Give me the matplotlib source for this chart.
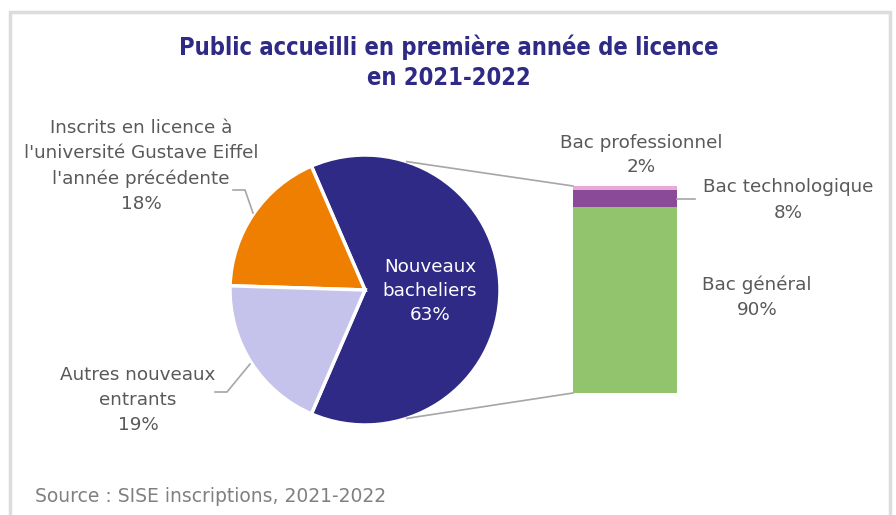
import matplotlib
matplotlib.use("Agg")
import matplotlib.pyplot as plt
import matplotlib.patches as mpatches
import numpy as np

# pie data
pie_labels = ["Nouveaux\nbacheliers", "Inscrits en licence à\nl'université Gustave Eiffel\nl'année précédente",
              "Autres nouveaux\nentrants"]
pie_values = [63, 18, 19]
pie_colors = ["#2E2A85", "#EE7F00", "#C5C3EB"]

# bar breakdown of "Nouveaux bacheliers"
bar_labels = ["Bac général", "Bac technologique", "Bac professionnel"]
bar_values = [90, 8, 2]
bar_colors = ["#92C46E", "#8A4A97", "#E8A8D8"]

W, H = 896, 515
TXT = "#595959"
LINE = "#A6A6A6"


def Y(y):
    # pixel row (from top) -> data y
    return H - y


fig = plt.figure(figsize=(W / 100, H / 100), dpi=100)
ax = fig.add_axes([0, 0, 1, 1])

# pie
cx, cy, r = 365, 290, 135
start = -sum(pie_values[:1]) / 100 * 180
ax.pie(pie_values, colors=pie_colors, startangle=start, counterclock=True,
       center=(cx, Y(cy)), radius=r,
       wedgeprops=dict(edgecolor="white", linewidth=2.5))

# stacked bar
bx, bw, b_bottom, b_height = 625, 104, 393, 207
scale = b_height / sum(bar_values)
bottom = Y(b_bottom)
for v, c in zip(bar_values, bar_colors):
    ax.bar(bx, v * scale, bottom=bottom, width=bw, color=c, edgecolor="none")
    bottom += v * scale

ax.set_xlim(0, W)
ax.set_ylim(0, H)
ax.axis("off")

# frame
ax.add_patch(mpatches.Rectangle((10, -10), 880, Y(12) + 10, fill=False,
                                edgecolor="#DCDCDC", linewidth=2.5))

# connector lines between pie and bar
a_top = np.deg2rad(72)
a_bot = np.deg2rad(-72)
ax.plot([cx + r * np.cos(a_top), bx - bw / 2], [Y(cy) + r * np.sin(a_top), Y(b_bottom - b_height)],
        color=LINE, lw=1.2)
ax.plot([cx + r * np.cos(a_bot), bx - bw / 2], [Y(cy) + r * np.sin(a_bot), Y(b_bottom)],
        color=LINE, lw=1.2)

# title
ax.text(449, Y(62), "Public accueilli en première année de licence\nen 2021-2022",
        ha="center", va="center", fontsize=17, fontweight="bold", color="#2E2A85",
        fontstretch="condensed", linespacing=1.3)

fs = 13.2
ls = 1.5
# pie labels
ax.text(430, Y(291), f"{pie_labels[0]}\n{pie_values[0]}%", ha="center", va="center",
        fontsize=fs, color="white", linespacing=1.4)
ax.text(141, Y(166), f"{pie_labels[1]}\n{pie_values[1]}%", ha="center", va="center",
        fontsize=fs, color=TXT, linespacing=ls)
ax.plot([233, 245, 253], [Y(190), Y(190), Y(213)], color=LINE, lw=1.2)
ax.text(138, Y(400), f"{pie_labels[2]}\n{pie_values[2]}%", ha="center", va="center",
        fontsize=fs, color=TXT, linespacing=ls)
ax.plot([215, 227, 250], [Y(392), Y(392), Y(364)], color=LINE, lw=1.2)

# bar labels
ax.text(641, Y(155), f"{bar_labels[2]}\n{bar_values[2]}%", ha="center", va="center",
        fontsize=fs, color=TXT, linespacing=ls)
ax.text(788, Y(200), f"{bar_labels[1]}\n{bar_values[1]}%", ha="center", va="center",
        fontsize=fs, color=TXT, linespacing=ls)
ax.plot([677, 695], [Y(199), Y(199)], color=LINE, lw=1.2)
ax.text(757, Y(297), f"{bar_labels[0]}\n{bar_values[0]}%", ha="center", va="center",
        fontsize=fs, color=TXT, linespacing=ls)

ax.text(35, Y(497), "Source : SISE inscriptions, 2021-2022", ha="left", va="center",
        fontsize=13.5, color="#808080")

fig.savefig("out.png", dpi=100)
